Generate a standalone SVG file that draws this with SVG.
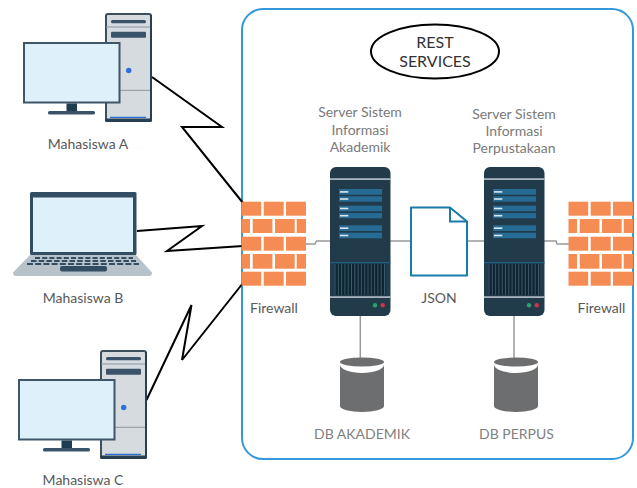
<svg xmlns="http://www.w3.org/2000/svg" width="637" height="488" viewBox="0 0 637 488">
<style>
text{font-family:Lato,"Open Sans","Liberation Sans",sans-serif;text-anchor:middle}
.lbl{font-size:14px;fill:#595959}
.srv{font-size:14px;fill:#7a7a7a}
.db{font-size:14px;fill:#7f7f7f}
.rest{font-size:16px;fill:#333}
.bolt{fill:none;stroke:#000;stroke-width:2;stroke-linejoin:miter}
.link{fill:none;stroke:#999;stroke-width:1.5}
.brick{fill:#f48c54}
.bar{fill:#266b94}
.dash{stroke:#dbe6ee;stroke-width:1.6}
</style>
<defs>
<g id="desktop">
<rect x="106" y="14" width="45" height="107" rx="2" fill="#d6dbdf" stroke="#3a4f60" stroke-width="2"/>
<rect x="111" y="20" width="35" height="3.2" rx="1.5" fill="#3a5368"/>
<line x1="106" y1="27" x2="151" y2="27" stroke="#8e979d" stroke-width="1"/>
<rect x="111" y="31.7" width="35" height="6" rx="1" fill="#3a5368"/>
<circle cx="128.7" cy="70.5" r="2.7" fill="#2f70d8"/>
<line x1="120" y1="90.3" x2="151" y2="90.3" stroke="#8e979d" stroke-width="1"/>
<rect x="105" y="118.5" width="47" height="3.5" rx="1.5" fill="#263f52"/>
<line x1="110" y1="117.3" x2="146" y2="117.3" stroke="#2f70d8" stroke-width="1.2"/>
<line x1="151" y1="15" x2="151" y2="120" stroke="#263f52" stroke-width="2"/>
<rect x="24" y="43" width="95.500" height="59.500" fill="#def0f9" stroke="#3f5568" stroke-width="2"/>
<rect x="66.500" y="103.500" width="10.500" height="8" fill="#1f3d50"/>
<rect x="48" y="111" width="47" height="3.600" rx="1.500" fill="#3a5368"/>
</g>
<g id="server">
<rect x="330" y="167" width="60.500" height="149" rx="6" fill="#213b4b"/>
<rect x="330" y="178.300" width="60.500" height="1.600" fill="#b9c4cb"/>
<rect class="bar" x="339" y="189" width="43" height="5.700"/>
<rect class="bar" x="339" y="196.300" width="43" height="5.400"/>
<rect class="bar" x="339" y="205.700" width="43" height="5.600"/>
<rect class="bar" x="339" y="213" width="43" height="5.300"/>
<rect class="bar" x="339" y="225.300" width="43" height="5.700"/>
<rect class="bar" x="339" y="232.700" width="43" height="5.600"/>
<line class="dash" x1="340" y1="191.900" x2="348.300" y2="191.900"/>
<line class="dash" x1="340" y1="199" x2="348.300" y2="199"/>
<line class="dash" x1="340" y1="208.500" x2="348.300" y2="208.500"/>
<line class="dash" x1="340" y1="215.700" x2="348.300" y2="215.700"/>
<line class="dash" x1="340" y1="228.200" x2="348.300" y2="228.200"/>
<line class="dash" x1="340" y1="235.500" x2="348.300" y2="235.500"/>
<rect x="330" y="262" width="60.500" height="1.200" fill="#1f5f85"/>
<rect x="334.500" y="264" width="51" height="31" fill="#0f2431"/>
<line x1="334.500" y1="279.500" x2="385.500" y2="279.500" stroke="#3a5a6d" stroke-width="31" stroke-dasharray="1 2.300"/>
<rect x="330" y="296.300" width="60.500" height="1.600" fill="#b9c4cb"/>
<circle cx="375" cy="305.300" r="2.200" fill="#27a36b"/>
<circle cx="382.700" cy="305.300" r="2.200" fill="#c8354f"/>
</g>
<g id="wall">
<g class="brick">
<rect x="241.500" y="201.700" width="19.700" height="14"/><rect x="263.700" y="201.700" width="20" height="14"/><rect x="286" y="201.700" width="20" height="14"/>
<rect x="241.500" y="219" width="8.500" height="14"/><rect x="252.700" y="219" width="19.700" height="14"/><rect x="275" y="219" width="19.700" height="14"/><rect x="296.700" y="219" width="9.300" height="14"/>
<rect x="241.500" y="236.700" width="19.700" height="14"/><rect x="263.700" y="236.700" width="20" height="14"/><rect x="286" y="236.700" width="20" height="14"/>
<rect x="241.500" y="254" width="8.500" height="14.700"/><rect x="252.700" y="254" width="19.700" height="14.700"/><rect x="275" y="254" width="19.700" height="14.700"/><rect x="296.700" y="254" width="9.300" height="14.700"/>
<rect x="241.500" y="271.700" width="19.700" height="14"/><rect x="263.700" y="271.700" width="20" height="14"/><rect x="286" y="271.700" width="20" height="14"/>
</g>
</g>
<g id="cyl">
<ellipse cx="362" cy="362" rx="22" ry="4.500" fill="#6d6e70"/>
<path d="M340,364.500A22,8.500 0 0 0 384,364.500V406A22,6 0 0 1 340,406Z" fill="#6d6e70"/>
</g>
</defs>

<rect id="rest-boundary" x="242" y="9" width="391" height="450" rx="21" fill="#fff" stroke="#3498db" stroke-width="2"/>

<g id="connectors">
<polyline class="bolt" points="152,77 222,127 182,127 243,203"/>
<polyline class="bolt" points="137,231 202,226 167,251 243,246"/>
<polyline class="bolt" points="146.500,400 191.500,305 182,360 243,283"/>
<polyline class="link" points="306,244 315,244 316.500,241 331,241"/>
<line class="link" x1="390" y1="241" x2="411" y2="241"/>
<line class="link" x1="467" y1="241" x2="485" y2="241"/>
<polyline class="link" points="544,241 556,241 557,244 569,244"/>
<line class="link" x1="360.300" y1="316" x2="360.300" y2="358"/>
<line class="link" x1="514" y1="316" x2="514" y2="358"/>
</g>

<g id="mahasiswa-a"><use href="#desktop"/><text class="lbl" x="88" y="149">Mahasiswa A</text></g>

<g id="mahasiswa-b">
<path d="M30,255H136L152,272.500Q152,276 149,276H16Q13,276 13,272.500Z" fill="#b7c2ca"/>
<rect x="30" y="192" width="106.500" height="63" rx="1.500" fill="#334d63"/>
<rect x="33" y="197.500" width="100" height="54.500" fill="#def0f9"/>
<line x1="35" y1="258" x2="133" y2="258" stroke="#334d63" stroke-width="2.200" stroke-dasharray="5 2.200"/>
<line x1="31" y1="261" x2="136" y2="261" stroke="#334d63" stroke-width="2.200" stroke-dasharray="5.500 2.200"/>
<line x1="27" y1="264" x2="139" y2="264" stroke="#334d63" stroke-width="2.200" stroke-dasharray="6 2.200"/>
<rect x="60" y="266" width="47" height="5.500" rx="2" fill="#334d63"/>
<text class="lbl" x="83" y="303">Mahasiswa B</text>
</g>

<g id="mahasiswa-c"><use href="#desktop" transform="translate(-5,337)"/><text class="lbl" x="83" y="485">Mahasiswa C</text></g>

<g id="firewall-1"><use href="#wall"/><text class="lbl" x="274" y="313">Firewall</text></g>
<g id="firewall-2"><use href="#wall" transform="translate(327,0)"/><text class="lbl" x="601.500" y="313">Firewall</text></g>

<g id="rest-services">
<ellipse cx="435" cy="51.500" rx="64" ry="27" fill="#fff" stroke="#000" stroke-width="2"/>
<text class="rest" x="435" y="48">REST</text>
<text class="rest" x="435" y="67">SERVICES</text>
</g>

<g id="server-akademik">
<use href="#server"/>
<text class="srv" x="360" y="117">Server Sistem</text>
<text class="srv" x="360" y="135">Informasi</text>
<text class="srv" x="360" y="152">Akademik</text>
</g>
<g id="server-perpustakaan">
<use href="#server" transform="translate(154,0)"/>
<text class="srv" x="514" y="119">Server Sistem</text>
<text class="srv" x="514" y="136">Informasi</text>
<text class="srv" x="514" y="153">Perpustakaan</text>
</g>

<g id="json">
<path d="M411,207.500H450L467,221.500V275.500H411Z" fill="#fff" stroke="#1a7aa8" stroke-width="2" stroke-linejoin="round"/>
<path d="M450,207.500V221.500H467" fill="none" stroke="#1a7aa8" stroke-width="2"/>
<text class="lbl" x="439" y="303">JSON</text>
</g>

<g id="db-akademik"><use href="#cyl"/><text class="db" x="362" y="439">DB AKADEMIK</text></g>
<g id="db-perpus"><use href="#cyl" transform="translate(154,0)"/><text class="db" x="516.500" y="439">DB PERPUS</text></g>
</svg>
